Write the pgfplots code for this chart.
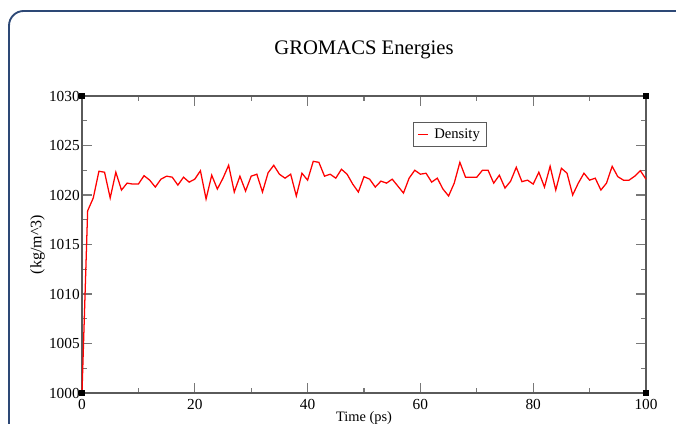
\documentclass[border=0pt]{standalone}
\usepackage{fontspec}
\setmainfont{Liberation Serif}
\usepackage{pgfplots}
\pgfplotsset{compat=1.18}
\definecolor{FrameBlue}{RGB}{45,72,118}
\definecolor{AxGray}{RGB}{90,90,90}
\definecolor{TickGray}{RGB}{120,120,120}

\pgfplotstableread{
t rho
0 1000.0
1 1018.4
2 1019.7
3 1022.4
4 1022.3
5 1019.7
6 1022.3
7 1020.5
8 1021.2
9 1021.1
10 1021.1
11 1021.95
12 1021.5
13 1020.8
14 1021.6
15 1021.9
16 1021.8
17 1021.0
18 1021.8
19 1021.3
20 1021.6
21 1022.45
22 1019.6
23 1022.0
24 1020.6
25 1021.7
26 1023.0
27 1020.3
28 1021.9
29 1020.4
30 1021.9
31 1022.1
32 1020.3
33 1022.25
34 1023.0
35 1022.1
36 1021.7
37 1022.1
38 1019.9
39 1022.2
40 1021.5
41 1023.4
42 1023.3
43 1021.9
44 1022.1
45 1021.7
46 1022.6
47 1022.1
48 1021.1
49 1020.3
50 1021.85
51 1021.6
52 1020.8
53 1021.4
54 1021.2
55 1021.6
56 1020.9
57 1020.2
58 1021.7
59 1022.5
60 1022.1
61 1022.2
62 1021.3
63 1021.7
64 1020.6
65 1019.9
66 1021.2
67 1023.3
68 1021.8
69 1021.8
70 1021.8
71 1022.5
72 1022.5
73 1021.2
74 1022.0
75 1020.7
76 1021.4
77 1022.8
78 1021.35
79 1021.5
80 1021.1
81 1022.3
82 1020.8
83 1022.9
84 1020.5
85 1022.7
86 1022.2
87 1020.0
88 1021.2
89 1022.2
90 1021.5
91 1021.7
92 1020.5
93 1021.2
94 1022.9
95 1021.85
96 1021.5
97 1021.5
98 1021.9
99 1022.45
100 1021.6
}\density

\begin{document}
\begin{tikzpicture}
% page = 676x424 px, 1 px = 0.75pt
\useasboundingbox (0,0) rectangle (507pt,318pt);
\clip (0,0) rectangle (507pt,318pt);
% outer rounded frame (cut at bottom and right)
\draw[FrameBlue, line width=1.4pt, rounded corners=11pt]
  (6.75pt,-20pt) -- (6.75pt,309.75pt) -- (530pt,309.75pt);
\begin{axis}[
  at={(61.5pt,23.25pt)}, anchor=south west,
  scale only axis, width=423pt, height=222.75pt,
  xmin=0, xmax=100, ymin=1000, ymax=1030,
  xtick={0,20,...,100}, minor xtick={10,30,...,90},
  ytick={1000,1005,...,1030}, minor ytick={1002.5,1007.5,...,1027.5},
  tick align=inside, tick pos=both,
  major tick length=7.5pt, minor tick length=3.75pt,
  every tick/.style={TickGray, line width=0.8pt},
  axis line style={AxGray, line width=0.9pt},
  /pgf/number format/assume math mode=true,
  /pgf/number format/1000 sep={},
  tick label style={font=\fontsize{11.5}{13}\selectfont, text=black},
  yticklabel style={inner sep=1pt, xshift=-0.5pt},
  xticklabel style={inner sep=1pt, yshift=-3.5pt},
  xlabel={Time (ps)},
  ylabel={(kg/m\textasciicircum 3)},
  xlabel style={font=\fontsize{10.8}{12}\selectfont, at={(axis description cs:0.5,-0.086)}, anchor=center},
  ylabel style={font=\fontsize{12}{14}\selectfont, at={(axis description cs:-0.079,0.5)}, anchor=center},
  title={GROMACS Energies},
  title style={font=\fontsize{15.5}{18}\selectfont, at={(axis description cs:0.5,1.128)}, anchor=center},
  legend style={at={(0.587,0.913)}, anchor=north west, draw=AxGray,
    line width=0.8pt, font=\fontsize{11}{13}\selectfont,
    inner xsep=3pt, inner ysep=2.5pt},
  legend cell align=left,
  legend image code/.code={\draw[red, line width=1pt] (0pt,0pt) -- (7.5pt,0pt);},
  clip=false,
]
\addplot[red, line width=0.95pt] table[x=t, y=rho] {\density};
\addlegendentry{\hspace{2pt}Density}
\addplot[only marks, mark=square*, mark size=2pt, black, forget plot]
  coordinates {(0,1000) (100,1000) (0,1030) (100,1030)};
\end{axis}
\end{tikzpicture}
\end{document}
